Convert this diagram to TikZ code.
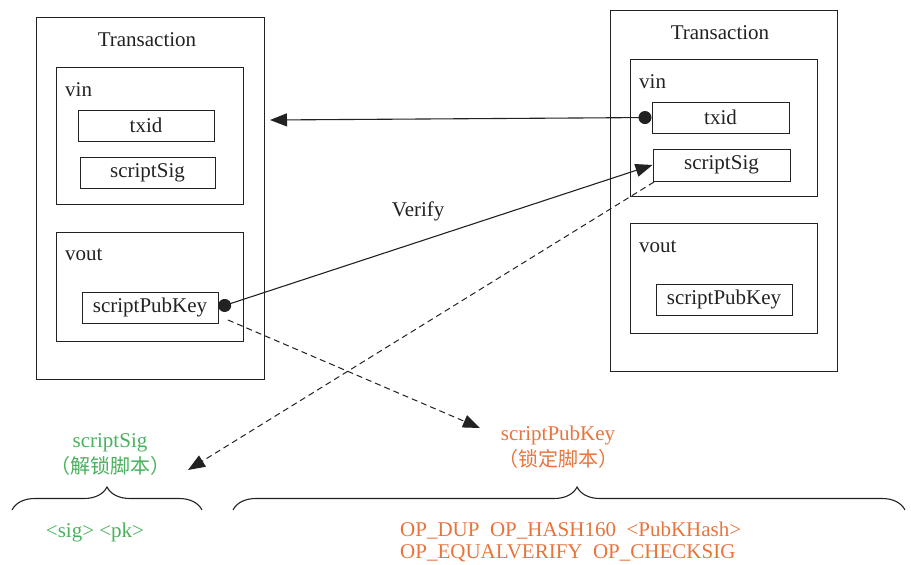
\documentclass[tikz,border=0pt]{standalone}
\usepackage{fontspec}
\setmainfont{Liberation Serif}
\newfontfamily\cjk{Noto Sans CJK SC}
\usetikzlibrary{arrows.meta, positioning, decorations.pathreplacing}

\definecolor{sigGreen}{RGB}{74,176,92}
\definecolor{pkOrange}{RGB}{232,116,60}
\definecolor{ink}{RGB}{34,34,34}

\begin{document}
\begin{tikzpicture}[
    x=1pt, y=-1pt,
    every node/.style = {text=ink},
    frame/.style = {draw=ink, line width=1pt, inner sep=0pt},
    field/.style = {frame, minimum width=136pt, minimum height=31pt,
                    font=\fontsize{21}{25}\selectfont},
    lbl/.style   = {font=\fontsize{21}{25}\selectfont, inner sep=0pt},
    note/.style  = {inner sep=0pt, font=\cjk\fontsize{20}{24}\selectfont},
    link/.style  = {{Circle[length=13pt]}-{Triangle[length=17pt,width=13pt]},
                    draw=ink, line width=1.1pt},
    dlink/.style = {-{Triangle[length=17pt,width=13pt]}, draw=ink,
                    line width=1pt, dash pattern=on 6pt off 4pt},
    brace/.style = {decorate, draw=ink, line width=1.1pt,
                    decoration={brace, amplitude=23pt}},
  ]
  \useasboundingbox (0,0) rectangle (911,565);

  % Left transaction
  \node[frame, minimum width=228pt, minimum height=362pt] (txL) at (150,198) {};
  \node[lbl, anchor=base] (txLname) at (147,46) {Transaction};
  \node[frame, minimum width=187pt, minimum height=137pt] (vinL) at (149.5,135.5) {};
  \node[lbl, anchor=base west] (vinLname) at (65,96) {vin};
  \node[field] (txidL) at (146,125.5) {txid};
  \node[field, minimum width=135pt] (sigL) at (147.5,172.5) {scriptSig};
  \node[frame, minimum width=187pt, minimum height=109pt] (voutL) at (149.5,286.5) {};
  \node[lbl, anchor=base west] (voutLname) at (65,260) {vout};
  \node[field] (pubL) at (150,307.5) {scriptPubKey};

  % Right transaction
  \node[frame, minimum width=227pt, minimum height=361pt] (txR) at (723.5,190.5) {};
  \node[lbl, anchor=base] (txRname) at (720,39) {Transaction};
  \node[frame, minimum width=187pt, minimum height=137pt] (vinR) at (723.5,127.5) {};
  \node[lbl, anchor=base west] (vinRname) at (639,88) {vin};
  \node[field, minimum width=137pt] (txidR) at (720.5,117.5) {txid};
  \node[field, minimum width=137pt, minimum height=32pt] (sigR) at (721.5,165) {scriptSig};
  \node[frame, minimum width=187pt, minimum height=110pt] (voutR) at (723.5,278) {};
  \node[lbl, anchor=base west] (voutRname) at (639,252) {vout};
  \node[field] (pubR) at (724,299.5) {scriptPubKey};

  % Script labels
  \node[lbl, anchor=base, text=sigGreen] (sigName) at (110,447) {scriptSig};
  \node[note, text=sigGreen] (sigNote) at (110,466) {（解锁脚本）};
  \node[lbl, anchor=base, text=pkOrange] (pkName) at (558,440) {scriptPubKey};
  \node[note, text=pkOrange] (pkNote) at (558,459) {（锁定脚本）};

  % Braces and script contents
  \coordinate (sigBraceA) at (12,510);
  \coordinate (sigBraceB) at (202,510);
  \coordinate (pkBraceA) at (233,510);
  \coordinate (pkBraceB) at (905,510);
  \draw[brace] (sigBraceA) -- (sigBraceB);
  \draw[brace, decoration={aspect=0.512}] (pkBraceA) -- (pkBraceB);
  \node[lbl, anchor=base, text=sigGreen] (sigCode) at (95,537) {<sig> <pk>};
  \node[lbl, anchor=base west, text=pkOrange] (pkCodeA) at (400,536)
    {OP\_DUP\ \ OP\_HASH160\ \ <PubKHash>};
  \node[lbl, anchor=base west, text=pkOrange] (pkCodeB) at (400,558)
    {OP\_EQUALVERIFY\ \ OP\_CHECKSIG};

  % Arrows
  \coordinate (vinLin) at (270,120);
  \coordinate (pubLout) at (228,320);
  \coordinate (pkTip) at (480,428);
  \coordinate (sigRout) at (654,182);
  \coordinate (sigTip) at (188,470);
  \draw[link] (txidR.west) -- (vinLin);
  \draw[link] (pubL.east) -- node[lbl, pos=0.46, above=20pt] (verify) {Verify} (sigR.west);
  \draw[dlink] (pubLout) -- (pkTip);
  \draw[dlink] (sigRout) -- (sigTip);
\end{tikzpicture}
\end{document}
